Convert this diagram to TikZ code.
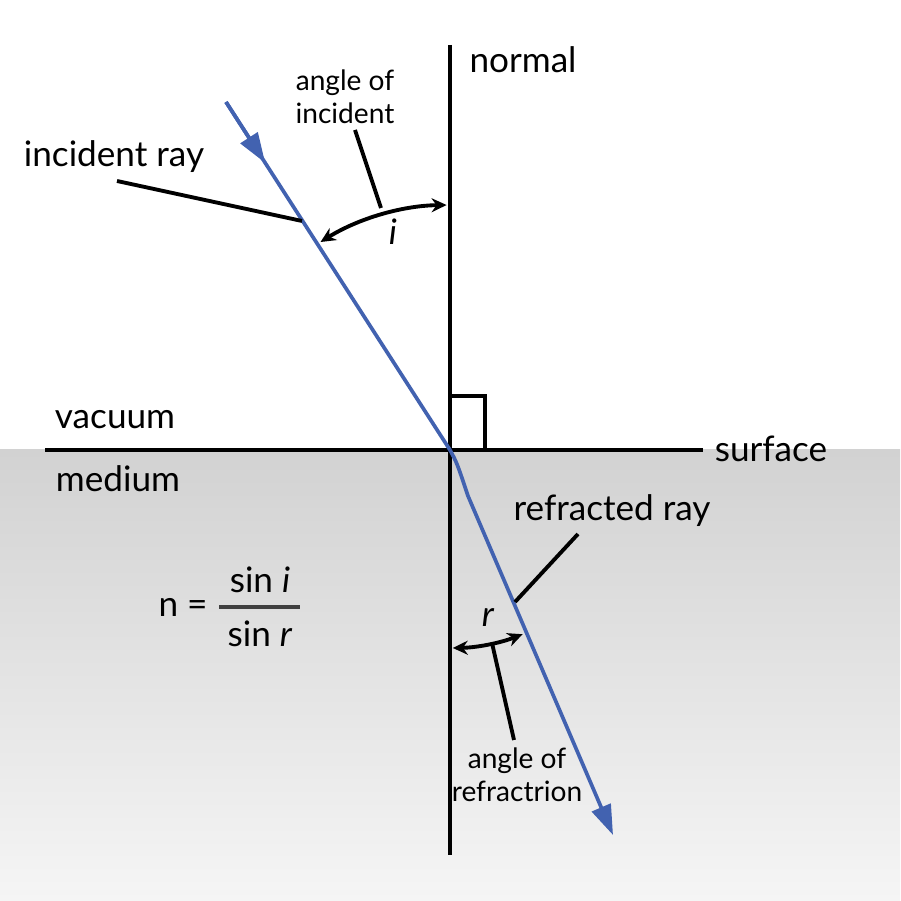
\documentclass[tikz,border=0pt]{standalone}
\usepackage{fontspec}
\setmainfont{Lato}
\usepackage{xcolor}
\usetikzlibrary{arrows.meta,calc}

\definecolor{rayBlue}{RGB}{66,98,176}
\definecolor{mediumTop}{RGB}{210,210,210}
\definecolor{mediumBottom}{RGB}{245,245,245}

\begin{document}
\begin{tikzpicture}[
    bigLabel/.style={font=\fontsize{10}{12}\selectfont,inner sep=0pt},
    smallLabel/.style={font=\fontsize{8}{9.5}\selectfont,inner sep=0pt,align=center},
    axisLine/.style={line width=1.3pt},
    rayLine/.style={line width=1.05pt,color=rayBlue},
    pointer/.style={line width=1.1pt},
    angleArc/.style={line width=1.1pt,{Stealth[length=1.5mm,width=1.4mm]}-{Stealth[length=1.5mm,width=1.4mm]}}
  ]
    \pgfmathsetmacro{\incAngle}{32.5}
    \pgfmathsetmacro{\refAngle}{22}
    \pgfmathsetmacro{\incRadius}{2.45}
    \pgfmathsetmacro{\refRadius}{1.98}

    \useasboundingbox (0,0) rectangle (9,9.01);

    % Medium
    \shade[top color=mediumTop,bottom color=mediumBottom] (0,0) rectangle (9,4.51);

    \coordinate (O) at (4.50,4.51);
    \coordinate (normalTop) at (4.50,8.56);
    \coordinate (normalBottom) at (4.50,0.46);
    \coordinate (surfaceLeft) at (0.45,4.51);
    \coordinate (surfaceRight) at (7.03,4.51);
    \coordinate (rayStart) at (2.26,7.99);
    \coordinate (rayBend) at (4.68,4.05);
    \coordinate (rayEnd) at (6.13,0.66);

    % Normale und Oberflaeche
    \draw[axisLine] (normalTop) -- (normalBottom);
    \draw[axisLine] (surfaceLeft) -- (surfaceRight);

    % Rechter Winkel
    \draw[axisLine] (O) |- (4.85,5.05) -- (4.85,4.51);

    % Einfallender Strahl
    \draw[rayLine] (rayStart) -- (O);
    \draw[rayLine,-{Triangle[length=3mm,width=2mm]}] (rayStart) -- ($(rayStart)!0.175!(O)$);

    % Gebrochener Strahl
    \draw[rayLine,-{Triangle[length=3mm,width=2mm]}] (O) .. controls (4.57,4.38) .. (rayBend) -- (rayEnd);

    % Winkel
    \draw[angleArc] ($(O)+(90.8:\incRadius)$) arc[start angle=90.8,end angle=90+\incAngle-0.6,radius=\incRadius];
    \draw[angleArc] ($(O)+(-89.2:\refRadius)$) arc[start angle=-89.2,end angle=-90+\refAngle-0.5,radius=\refRadius];

    % Beschriftung
    \node[bigLabel] (normalText) at (5.23,8.41) {normal};
    \node[bigLabel] (surfaceText) at (7.71,4.52) {surface};
    \node[bigLabel] (vacuumText) at (1.15,4.81) {vacuum};
    \node[bigLabel] (mediumText) at (1.18,4.22) {medium};
    \node[bigLabel] (incRayText) at (1.14,7.44) {incident ray};
    \node[bigLabel] (refRayText) at (6.12,3.90) {refracted ray};
    \node[smallLabel] (incAngleText) at (3.45,8.04) {angle of\\incident};
    \node[smallLabel] (refAngleText) at (5.17,1.26) {angle of\\refractrion};
    \node[bigLabel] (iText) at (3.93,6.69) {\textit{i}};
    \node[bigLabel] (rText) at (4.88,2.84) {\textit{r}};

    % Zeiger
    \coordinate (incRayA) at (1.17,7.20);
    \coordinate (incRayB) at (3.02,6.80);
    \coordinate (incAngleA) at (3.55,7.71);
    \coordinate (incAngleB) at (3.81,6.93);
    \coordinate (refRayA) at (5.78,3.67);
    \coordinate (refRayB) at (5.15,2.99);
    \coordinate (refAngleA) at (5.14,1.61);
    \coordinate (refAngleB) at (4.92,2.58);
    \draw[pointer] (incRayA) -- (incRayB);
    \draw[pointer] (incAngleA) -- (incAngleB);
    \draw[pointer] (refRayA) -- (refRayB);
    \draw[pointer] (refAngleA) -- (refAngleB);

    % Brechzahl
    \node[bigLabel] (nEq) at (1.83,2.94) {n =};
    \node[bigLabel] (sinI) at (2.60,3.21) {sin \textit{i}};
    \node[bigLabel] (sinR) at (2.60,2.67) {sin \textit{r}};
    \draw[line width=0.9pt,color=black!75] (2.19,2.94) -- (3.00,2.94);
\end{tikzpicture}
\end{document}
